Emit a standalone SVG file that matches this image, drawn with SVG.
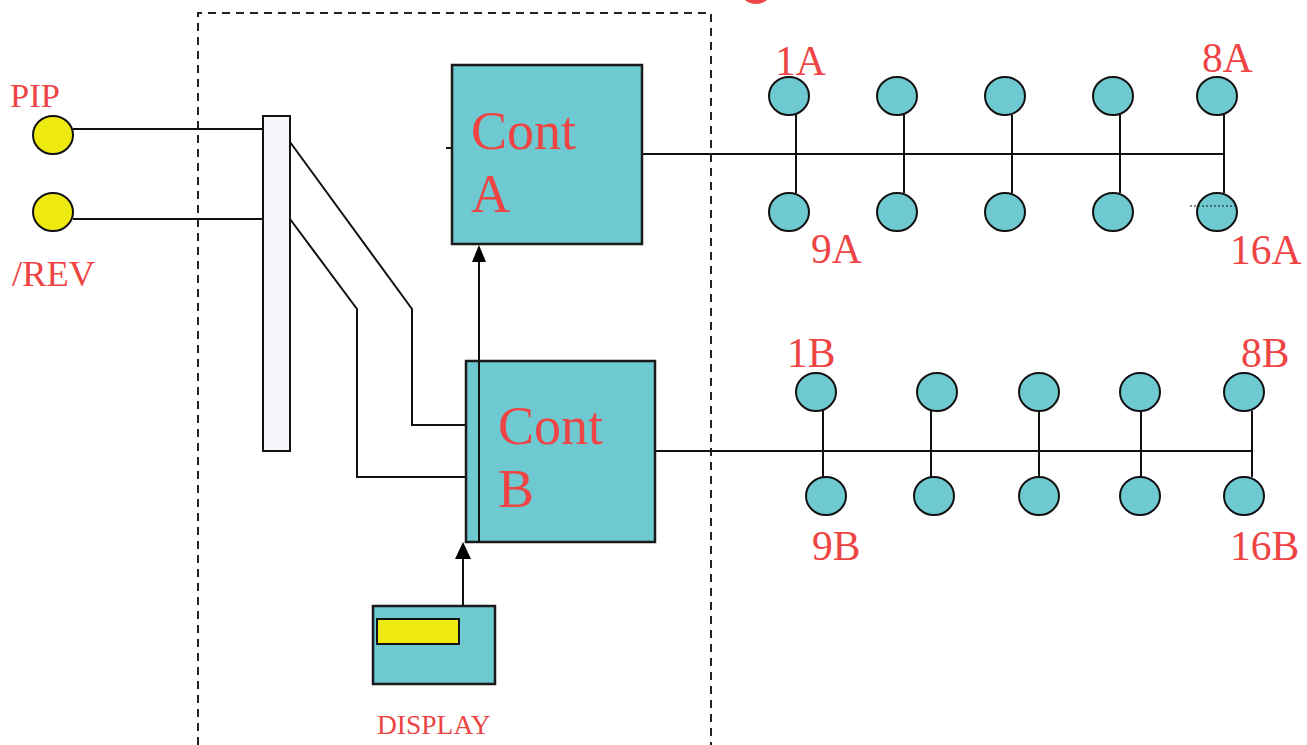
<svg xmlns="http://www.w3.org/2000/svg" width="1307" height="745" viewBox="0 0 1307 745">
<defs>
<style>
.ln{stroke:#111;stroke-width:2;fill:none}
.box{fill:#6ec9d0;stroke:#1a1a1a;stroke-width:2.5}
.dev{fill:#6ec9d0;stroke:#111;stroke-width:2}
.yel{fill:#eeea10;stroke:#111;stroke-width:2}
.t{font-family:"Liberation Serif","Times New Roman",serif;fill:#ee4444}
.lb{font-size:41.5px}
</style>
</defs>
<rect width="1307" height="745" fill="#fff"/>
<ellipse cx="756" cy="-9" rx="15" ry="13" fill="#ee4444"/>
<path d="M198,745 L198,13 L711,13 L711,745" fill="none" stroke="#222" stroke-width="2" stroke-dasharray="8,6"/>

<g id="connectors">
<line class="ln" x1="73" y1="129" x2="263" y2="129"/>
<line class="ln" x1="73" y1="219" x2="263" y2="219"/>
<polyline class="ln" points="290,142 412,309 412,425 466,425"/>
<polyline class="ln" points="290,219 357,309 357,477 466,477"/>
<line class="ln" x1="446" y1="148" x2="452" y2="148"/>
<line class="ln" x1="479" y1="542" x2="479" y2="262"/>
<path d="M472,262 L486,262 L479,245 z" fill="#000"/>
<line class="ln" x1="463" y1="606" x2="463" y2="558"/>
<path d="M455,559 L471,559 L463,542 z" fill="#000"/>
<line class="ln" x1="642" y1="154" x2="1225" y2="154"/>
<line class="ln" x1="655" y1="451" x2="1252" y2="451"/>
<line class="ln" x1="796" y1="115" x2="796" y2="193"/>
<line class="ln" x1="904" y1="115" x2="904" y2="193"/>
<line class="ln" x1="1012" y1="115" x2="1012" y2="193"/>
<line class="ln" x1="1120" y1="115" x2="1120" y2="193"/>
<line class="ln" x1="1224" y1="115" x2="1224" y2="193"/>
<line class="ln" x1="823" y1="411" x2="823" y2="477"/>
<line class="ln" x1="931" y1="411" x2="931" y2="477"/>
<line class="ln" x1="1039" y1="411" x2="1039" y2="477"/>
<line class="ln" x1="1141" y1="411" x2="1141" y2="477"/>
<line class="ln" x1="1252" y1="411" x2="1252" y2="477"/>
</g>

<g id="pip"><ellipse class="yel" cx="53" cy="135" rx="20" ry="19"/><text class="t" x="10" y="107" font-size="34.5">PIP</text></g>
<g id="rev"><ellipse class="yel" cx="53" cy="212" rx="20" ry="19"/><text class="t" x="12" y="286" font-size="36.5">/REV</text></g>
<g id="bar"><rect x="263" y="116" width="27" height="335" fill="#f5f5fb" stroke="#111" stroke-width="2"/></g>

<g id="contA"><rect class="box" x="452" y="65" width="190" height="179"/>
<text class="t" x="471" y="149" font-size="54">Cont</text><text class="t" x="471" y="212" font-size="54">A</text></g>
<g id="contB"><rect class="box" x="466" y="361" width="189" height="181"/>
<line class="ln" x1="479" y1="361" x2="479" y2="542"/>
<text class="t" x="498" y="444" font-size="54">Cont</text><text class="t" x="498" y="507" font-size="54">B</text></g>

<g id="display"><rect class="box" x="373" y="606" width="122" height="78"/>
<rect class="yel" x="377" y="619" width="82" height="25"/>
<text class="t" x="377" y="734" font-size="27.5">DISPLAY</text></g>

<g id="rowA">
<ellipse class="dev" cx="789" cy="96" rx="20" ry="19"/>
<ellipse class="dev" cx="897" cy="96" rx="20" ry="19"/>
<ellipse class="dev" cx="1005" cy="96" rx="20" ry="19"/>
<ellipse class="dev" cx="1113" cy="96" rx="20" ry="19"/>
<ellipse class="dev" cx="1217" cy="96" rx="20" ry="19"/>
<ellipse class="dev" cx="789" cy="212" rx="20" ry="19"/>
<ellipse class="dev" cx="897" cy="212" rx="20" ry="19"/>
<ellipse class="dev" cx="1005" cy="212" rx="20" ry="19"/>
<ellipse class="dev" cx="1113" cy="212" rx="20" ry="19"/>
<ellipse class="dev" cx="1217" cy="212" rx="20" ry="19"/>
<line x1="1190" y1="206" x2="1235" y2="206" stroke="#111" stroke-width="1.2" stroke-dasharray="2,2"/>
<text class="t lb" x="775" y="75">1A</text>
<text class="t lb" x="1202" y="72">8A</text>
<text class="t lb" x="811" y="263">9A</text>
<text class="t lb" x="1230" y="264">16A</text>
</g>

<g id="rowB">
<ellipse class="dev" cx="816" cy="392" rx="20" ry="19"/>
<ellipse class="dev" cx="937" cy="392" rx="20" ry="19"/>
<ellipse class="dev" cx="1039" cy="392" rx="20" ry="19"/>
<ellipse class="dev" cx="1140" cy="392" rx="20" ry="19"/>
<ellipse class="dev" cx="1244" cy="392" rx="20" ry="19"/>
<ellipse class="dev" cx="826" cy="496" rx="20" ry="19"/>
<ellipse class="dev" cx="934" cy="496" rx="20" ry="19"/>
<ellipse class="dev" cx="1039" cy="496" rx="20" ry="19"/>
<ellipse class="dev" cx="1140" cy="496" rx="20" ry="19"/>
<ellipse class="dev" cx="1244" cy="496" rx="20" ry="19"/>
<text class="t lb" x="787" y="367">1B</text>
<text class="t lb" x="1241" y="367">8B</text>
<text class="t lb" x="812" y="560">9B</text>
<text class="t lb" x="1230" y="560">16B</text>
</g>
</svg>
